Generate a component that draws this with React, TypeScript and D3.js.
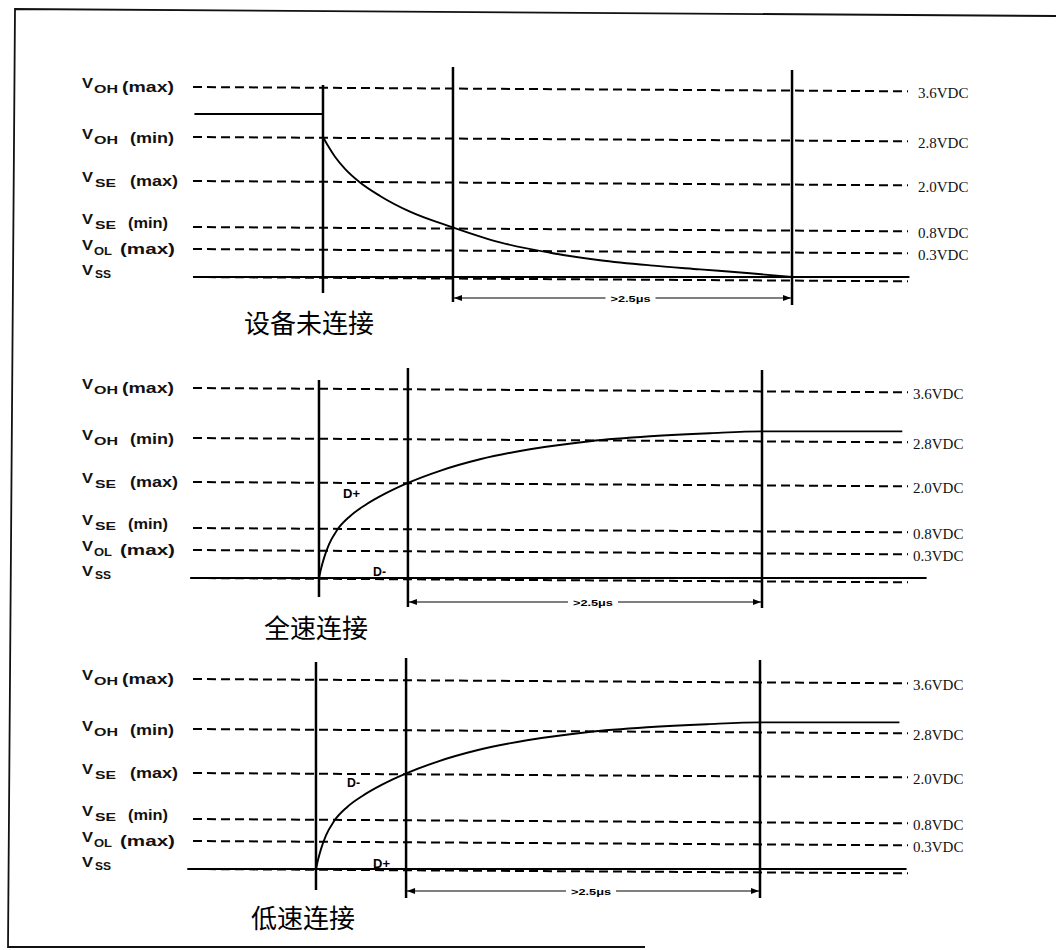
import React from "react";
import * as d3 from "d3";

// ---------- data ----------
const levels = [3.6, 2.8, 2.0, 0.8, 0.3, 0];
const levelValueLabels = ["3.6VDC", "2.8VDC", "2.0VDC", "0.8VDC", "0.3VDC"];
const levelSymbols = ["V", "V", "V", "V", "V", "V"];
const levelSubs = ["OH", "OH", "SE", "SE", "OL", "SS"];
const levelQualifiers = ["(max)", "(min)", "(max)", "(min)", "(max)", ""];

const panelTitles = ["设备未连接", "全速连接", "低速连接"];
// event times (μs): v1 = attach/detach, v2 = threshold crossing, v3 = end of >2.5μs
const panelEvents = [
  [0.909, 1.818, 4.189],
  [0.881, 1.503, 3.979],
  [0.86, 1.49, 3.965],
];
const durationLabel = ">2.5μs";

// panel 1: idle high level before disconnect, then decay
const idleHigh1: [number, number][] = [[0.01, 3.17], [0.909, 3.17]];
const decay1: [number, number][] = [
  [0.909, 2.8], [0.944, 2.64], [0.993, 2.44], [1.063, 2.22], [1.168, 1.96],
  [1.308, 1.61], [1.517, 1.2], [1.818, 0.79], [2.147, 0.45], [2.497, 0.26],
  [2.846, 0.18], [3.196, 0.125], [3.545, 0.082], [3.895, 0.04], [4.189, 0],
];
// panel 2: D+ pulled up (full speed)
const rise2: [number, number][] = [
  [0.881, 0], [0.895, 0.096], [0.916, 0.213], [0.951, 0.427], [1.007, 0.75],
  [1.098, 1.108], [1.203, 1.395], [1.343, 1.695], [1.503, 1.977], [1.727, 2.204],
  [2.007, 2.413], [2.357, 2.596], [2.776, 2.742], [3.196, 2.827], [3.615, 2.877],
  [3.979, 2.906], [4.96, 2.906],
];
// panel 3: D- pulled up (low speed)
const rise3: [number, number][] = [
  [0.86, 0], [0.874, 0.096], [0.895, 0.213], [0.93, 0.427], [0.986, 0.75],
  [1.077, 1.108], [1.182, 1.395], [1.322, 1.695], [1.483, 1.977], [1.706, 2.204],
  [1.986, 2.413], [2.336, 2.596], [2.755, 2.742], [3.175, 2.827], [3.594, 2.877],
  [3.965, 2.906], [4.94, 2.906],
];
const panelCurves = [decay1, rise2, rise3];
// low line (VSS) of the other data line, start/end times
const vssSignal = [
  [0.01, 5.01],
  [-0.02, 5.13],
  [-0.04, 4.99],
];
// D+/D- annotations: [text, t, V]
const dLabels: [string, number, number][][] = [
  [],
  [["D+", 1.049, 1.58], ["D-", 1.259, 0.02]],
  [["D-", 1.077, 1.63], ["D+", 1.259, 0.01]],
];

// ---------- layout ----------
const W = 1056;
const H = 950;
const panelTops = [87, 388, 679];
const levelOffsets = [0, 50, 94, 140, 162, 190];
const vertTops = [[85, 67, 70], [380, 368, 370], [662, 658, 660]];
const vertBottoms = [[293, 302, 305], [597, 607, 608], [890, 898, 898]];
const arrowYs = [298, 602, 891];
const titleXs = [244, 264, 251];
const titleBaselines = [333, 638, 928];
const rightLabelXs = [918, 913, 913];
const labelX = 82;
const subXs = [94, 94, 95, 95, 94, 95];
const subLens = [24, 24, 21, 21, 18, 16];
const qualXs = [122, 130, 130, 128, 120, 0];
const qualLens = [52, 44, 48, 40, 55, 0];
const labelDy = [1, 2, 1, -3, 1, -2];

const xScale = d3.scaleLinear().domain([0, 5]).range([193, 908]);
const yScaleFor = (p: number) =>
  d3.scaleLinear().domain(levels).range(levelOffsets.map((o) => panelTops[p] + o));

const SANS = "'Liberation Sans', Arial, sans-serif";
const SERIF = "'Liberation Serif', 'Times New Roman', serif";
const CJK = "'Noto Sans CJK SC', sans-serif";

function Panel({ p }: { p: number }) {
  const y = yScaleFor(p);
  const line = d3
    .line<[number, number]>()
    .x((d) => xScale(d[0]))
    .y((d) => y(d[1]))
    .curve(d3.curveMonotoneX);
  const ev = panelEvents[p];
  const x0 = xScale.range()[0];
  const x1 = xScale.range()[1];
  const ax0 = xScale(ev[1]);
  const ax1 = xScale(ev[2]);
  const ay = arrowYs[p];
  const tc = (ax0 + ax1) / 2 + 8;
  const skew = `translate(${x0},0) skewY(0.345) translate(${-x0},0)`;
  return (
    <g>
      {/* dashed reference levels */}
      <g transform={skew}>
        {levels.map((lv, i) => (
          <line
            key={i}
            x1={x0}
            x2={x1}
            y1={y(lv)}
            y2={y(lv)}
            stroke="#000"
            strokeWidth={2}
            strokeDasharray="9 5"
          />
        ))}
      </g>
      {/* left level labels */}
      {levels.map((lv, i) => {
        const yb = y(lv) + labelDy[i];
        return (
          <g key={"l" + i} fill="#111" fontFamily={SANS} fontWeight="bold">
            <text x={labelX} y={yb} fontSize={14} textLength={11} lengthAdjust="spacingAndGlyphs">
              {levelSymbols[i]}
            </text>
            <text x={subXs[i]} y={yb + (i === 5 ? 3 : 5)} fontSize={10} textLength={subLens[i]} lengthAdjust="spacingAndGlyphs">
              {levelSubs[i]}
            </text>
            {levelQualifiers[i] && (
              <text x={qualXs[i]} y={yb + 4} fontSize={14} textLength={qualLens[i]} lengthAdjust="spacingAndGlyphs">
                {levelQualifiers[i]}
              </text>
            )}
          </g>
        );
      })}
      {/* right value labels */}
      {levelValueLabels.map((s, i) => (
        <text key={"r" + i} x={rightLabelXs[p]} y={y(levels[i]) + 11} fontSize={15} fontFamily={SERIF} fill="#111">
          {s}
        </text>
      ))}
      {/* VSS signal */}
      <line
        x1={xScale(vssSignal[p][0])}
        x2={xScale(vssSignal[p][1])}
        y1={y(0)}
        y2={y(0)}
        stroke="#000"
        strokeWidth={2}
      />
      {p === 0 && <path d={line(idleHigh1) || ""} fill="none" stroke="#000" strokeWidth={2} />}
      <path d={line(panelCurves[p]) || ""} fill="none" stroke="#000" strokeWidth={1.9} />
      {/* event verticals */}
      {ev.map((t, i) => (
        <line
          key={"v" + i}
          x1={xScale(t)}
          x2={xScale(t)}
          y1={vertTops[p][i]}
          y2={vertBottoms[p][i]}
          stroke="#000"
          strokeWidth={2.5}
        />
      ))}
      {/* duration arrow */}
      <line x1={ax0} x2={tc - 25} y1={ay} y2={ay} stroke="#000" strokeWidth={1.2} />
      <line x1={tc + 25} x2={ax1} y1={ay} y2={ay} stroke="#000" strokeWidth={1.2} />
      <path d={`M${ax0 + 1},${ay} l8,-3 l0,6 z`} fill="#000" />
      <path d={`M${ax1 - 1},${ay} l-8,-3 l0,6 z`} fill="#000" />
      <text
        x={tc}
        y={ay + 3.5}
        fontSize={9}
        fontWeight="bold"
        fontFamily={SANS}
        textAnchor="middle"
        textLength={40}
        lengthAdjust="spacingAndGlyphs"
        fill="#000"
      >
        {durationLabel}
      </text>
      {/* D+/D- */}
      {dLabels[p].map(([s, t, v], i) => (
        <text
          key={"d" + i}
          x={xScale(t)}
          y={y(v)}
          fontSize={13}
          fontWeight="bold"
          fontFamily={SANS}
          textLength={s === "D+" ? 17 : 13}
          lengthAdjust="spacingAndGlyphs"
          fill="#000"
        >
          {s}
        </text>
      ))}
      {/* title */}
      <text x={titleXs[p]} y={titleBaselines[p]} fontSize={26} fontFamily={CJK} fill="#000">
        {panelTitles[p]}
      </text>
    </g>
  );
}

export default function App() {
  return (
    <svg
      width={W}
      height={H}
      viewBox={`0 0 ${W} ${H}`}
      style={{ position: "absolute", left: 0, top: 0, background: "#fff" }}
    >
      <rect x={0} y={0} width={W} height={H} fill="#fff" />
      <path d="M1056,16 L15,9 L8,947 L645,947" fill="none" stroke="#111" strokeWidth={1.8} />
      {panelTitles.map((_, p) => (
        <Panel key={p} p={p} />
      ))}
    </svg>
  );
}
